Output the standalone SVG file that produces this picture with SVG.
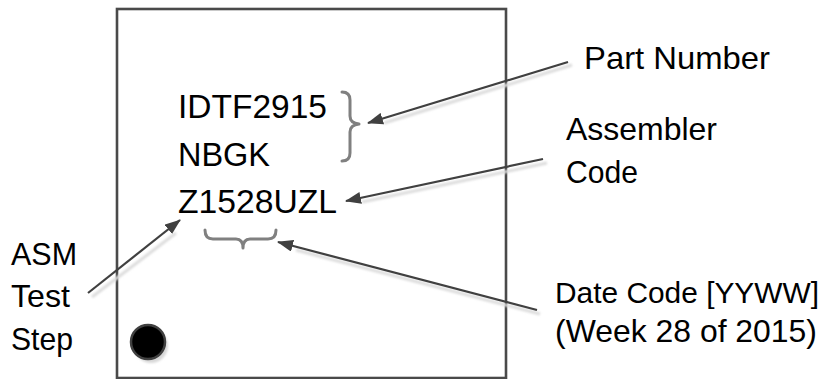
<svg xmlns="http://www.w3.org/2000/svg" width="836" height="379" viewBox="0 0 836 379">
  <style>
    .mark { font-family: "Liberation Sans", Arial, sans-serif; font-size: 34px; fill: #000; }
    .lbl { font-family: "Liberation Sans", Arial, sans-serif; font-size: 32px; fill: #000; }
    .lbl-s { font-size: 29.5px; }
    .brace { fill: none; stroke: #808080; stroke-width: 3; stroke-linecap: round; stroke-linejoin: round; }
    .arrow { fill: none; stroke: #404040; stroke-width: 2.2; marker-end: url(#head); }
    .shadow { fill: none; stroke: #dcdcdc; stroke-width: 3; }
  </style>
  <defs>
    <marker id="head" viewBox="0 0 16 12" markerWidth="16" markerHeight="12" refX="15" refY="6" orient="auto" markerUnits="userSpaceOnUse">
      <path d="M0,0 L16,6 L0,12 Z" fill="#404040"/>
    </marker>
    <filter id="blur" x="-20%" y="-20%" width="140%" height="140%">
      <feGaussianBlur stdDeviation="1.2"/>
    </filter>
  </defs>
  <rect width="836" height="379" fill="#ffffff"/>

  <g id="package">
    <rect x="117" y="9" width="389" height="369" fill="none" stroke="#4a4a4a" stroke-width="2.6"/>
    <circle cx="151" cy="346" r="17" fill="#d8d8d8" filter="url(#blur)"/>
    <circle cx="148" cy="342" r="17" fill="#000" stroke="#404040" stroke-width="2.5"/>
  </g>

  <g id="marking">
    <text class="mark" x="178" y="118" textLength="149" lengthAdjust="spacingAndGlyphs">IDTF2915</text>
    <text class="mark" x="178" y="166" textLength="92" lengthAdjust="spacingAndGlyphs">NBGK</text>
    <text class="mark" x="178" y="213" textLength="159" lengthAdjust="spacingAndGlyphs">Z1528UZL</text>
  </g>

  <g id="brace-part">
    <path class="brace" d="M342,92 Q350,92 350,100 L350,116 Q350,123 359,124 Q350,125 350,132 L350,153 Q350,161 342,161"/>
  </g>
  <g id="brace-date">
    <path class="brace" d="M205,230 Q205,239 213,239 L236,239 Q243,239 243,248 Q243,239 250,239 L268,239 Q276,239 276,230"/>
  </g>

  <g id="label-part">
    <text class="lbl" x="584" y="69" textLength="186" lengthAdjust="spacingAndGlyphs">Part Number</text>
  </g>
  <g id="label-assembler">
    <text class="lbl" x="566" y="140" textLength="151" lengthAdjust="spacingAndGlyphs">Assembler</text>
    <text class="lbl" x="566" y="183" textLength="72" lengthAdjust="spacingAndGlyphs">Code</text>
  </g>
  <g id="label-date">
    <text class="lbl lbl-s" x="555" y="303" textLength="264" lengthAdjust="spacingAndGlyphs">Date Code [YYWW]</text>
    <text class="lbl" x="555" y="342" textLength="262" lengthAdjust="spacingAndGlyphs">(Week 28 of 2015)</text>
  </g>
  <g id="label-asm">
    <text class="lbl" x="11" y="265" textLength="66" lengthAdjust="spacingAndGlyphs">ASM</text>
    <text class="lbl" x="11" y="307" textLength="59" lengthAdjust="spacingAndGlyphs">Test</text>
    <text class="lbl" x="11" y="350" textLength="62" lengthAdjust="spacingAndGlyphs">Step</text>
  </g>

  <g id="connectors">
    <g filter="url(#blur)">
      <line class="shadow" x1="572" y1="65" x2="384" y2="123"/>
      <line class="shadow" x1="547" y1="163" x2="362" y2="202"/>
      <line class="shadow" x1="540" y1="314" x2="296" y2="250"/>
      <line class="shadow" x1="92" y1="297" x2="176" y2="233"/>
    </g>
    <line class="arrow" x1="568" y1="62" x2="368" y2="123"/>
    <line class="arrow" x1="543" y1="159" x2="346" y2="201"/>
    <line class="arrow" x1="537" y1="310" x2="278" y2="242"/>
    <line class="arrow" x1="88" y1="293" x2="180" y2="220"/>
  </g>
</svg>
